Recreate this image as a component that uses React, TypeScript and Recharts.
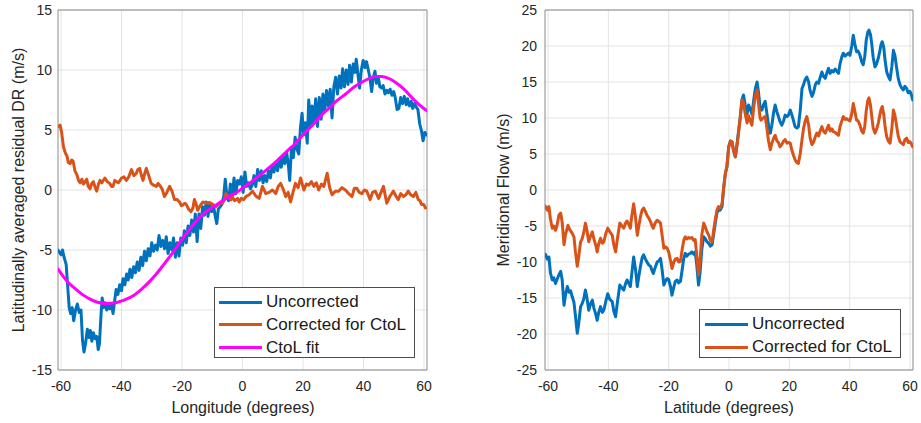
import React from 'react';
import { LineChart, Line, XAxis, YAxis, CartesianGrid, Label, ReferenceArea } from 'recharts';

const BLUE = '#0072BD';
const ORANGE = '#D95319';
const MAGENTA = '#FF00FF';
const TEXT = '#262626';
const FONT = '"Liberation Sans", Arial, Helvetica, sans-serif';

const xTicks = [-60, -40, -20, 0, 20, 40, 60];
const drTicks = [-15, -10, -5, 0, 5, 10, 15];
const flowTicks = [-25, -20, -15, -10, -5, 0, 5, 10, 15, 20, 25];

// Left panel: Longitude vs latitudinally averaged residual DR
const lonUncorrected = [-61, -60, -59.5, -59, -58.3, -57.8, -57.3, -56.8, -56.3, -55.8, -55.2, -54.6, -54, -53.4, -52.9, -52.4, -51.9, -51.3, -50.8, -50.3, -49.8, -49.3, -48.7, -48.2, -47.7, -47.3, -46.8, -46.4, -45.9, -45.4, -44.9, -44.4, -43.9, -43.3, -42.8, -42.3, -41.8, -41.2, -40.6, -40, -39.5, -38.9, -38.3, -37.8, -37.2, -36.6, -36, -35.4, -34.8, -34.2, -33.6, -33, -32.4, -31.8, -31.2, -30.6, -30, -29.4, -28.8, -28.2, -27.6, -27, -26.4, -25.8, -25.2, -24.6, -24, -23.4, -22.8, -22.2, -21.6, -21, -20.4, -19.8, -19.2, -18.6, -18, -17.4, -16.8, -16.2, -15.6, -15, -14.4, -13.8, -13.2, -12.6, -12, -11.4, -10.8, -10.2, -9.6, -9, -8.5, -8, -7.4, -6.8, -6.2, -5.7, -5.2, -4.6, -4, -3.4, -2.8, -2.2, -1.6, -1, -0.4, 0.2, 0.8, 1.4, 2, 2.6, 3.2, 3.8, 4.4, 5, 5.6, 6.2, 6.8, 7.4, 8, 8.6, 9.2, 9.8, 10.4, 11, 11.6, 12.2, 12.8, 13.4, 14, 14.6, 15.2, 15.6, 16.2, 16.8, 17.4, 18, 18.6, 19.2, 19.7, 20.2, 20.8, 21.4, 21.9, 22.5, 23, 23.6, 24.2, 24.8, 25.4, 26, 26.6, 27.2, 27.8, 28.4, 29, 29.6, 30.2, 30.8, 31.4, 32, 32.6, 33.1, 33.7, 34.3, 34.9, 35.4, 36, 36.6, 37.2, 37.6, 38.2, 38.7, 39.3, 39.9, 40.5, 41, 41.6, 42.1, 42.7, 43.2, 43.8, 44.3, 44.9, 45.4, 46, 46.5, 47.1, 47.7, 48.2, 48.8, 49.4, 50, 50.5, 51.1, 51.7, 52.3, 52.9, 53.5, 54.1, 54.6, 55.2, 55.8, 56.3, 56.9, 57.5, 58, 58.6, 59.2, 59.7, 60.3, 60.8];
const drUncorrected = [-5.0, -5.4, -5.0, -5.6, -6.2, -8.0, -9.8, -10.3, -9.8, -10.9, -10.0, -9.5, -10.2, -10.0, -12.5, -13.5, -12.8, -11.6, -12.3, -11.7, -12.6, -11.9, -12.4, -12.2, -13.3, -12.8, -10.5, -9.0, -9.8, -9.4, -10.0, -9.6, -9.9, -9.5, -10.3, -9.3, -8.3, -8.7, -7.9, -8.4, -7.4, -7.9, -7.0, -7.5, -6.6, -7.3, -6.4, -6.9, -6.0, -6.7, -5.6, -6.3, -5.1, -5.9, -4.9, -5.5, -4.4, -5.1, -4.6, -5.0, -3.8, -4.7, -4.2, -4.9, -3.9, -5.3, -4.4, -5.0, -4.0, -5.6, -4.4, -5.5, -4.0, -4.6, -3.4, -4.4, -3.0, -3.8, -2.5, -3.5, -2.0, -4.3, -2.0, -3.2, -1.4, -2.1, -1.0, -2.2, -1.1, -1.8, -1.3, -2.2, -2.8, -1.6, -1.4, -1.2, -0.5, 0.9, -0.4, -0.9, 0.5, -0.6, 1.0, -0.3, 0.8, 0.5, 1.1, -0.2, 1.5, 0.3, 0.6, 0.1, 0.4, 1.2, 0.3, 1.7, 0.8, 1.6, 0.6, 1.2, 0.7, 1.6, 1.0, 2.0, 1.5, 2.2, 1.6, 2.6, 1.9, 2.8, 2.2, 3.1, 2.0, 0.8, 3.5, 2.7, 4.4, 3.4, 3.0, 5.3, 6.4, 4.6, 5.6, 3.9, 7.5, 5.3, 7.0, 5.6, 7.6, 5.3, 7.7, 5.9, 8.0, 6.6, 8.3, 7.0, 8.4, 6.0, 8.6, 9.4, 8.0, 9.5, 8.5, 10.1, 8.6, 10.0, 8.8, 10.4, 9.0, 10.5, 9.8, 10.9, 9.6, 8.5, 10.0, 10.8, 10.2, 10.7, 10.0, 9.4, 8.2, 9.3, 9.9, 8.9, 9.4, 8.6, 8.5, 8.7, 8.0, 8.3, 8.1, 8.4, 7.9, 8.2, 7.7, 6.7, 6.8, 7.7, 7.2, 7.8, 7.1, 7.6, 7.0, 7.4, 6.8, 7.2, 6.9, 6.7, 5.5, 4.9, 4.1, 4.8, 4.6];

const lonCorrected = [-60.8, -60.3, -59.8, -59.2, -58.6, -58, -57.6, -57, -56.5, -56, -55.4, -54.8, -54.2, -53.7, -53.1, -52.6, -52, -51.5, -51, -50.4, -49.9, -49.3, -48.7, -48.2, -47.6, -47.1, -46.5, -45.5, -44.7, -43.9, -43.3, -42.8, -42.2, -41.7, -41, -40, -39.2, -38.4, -37.6, -36.7, -35.9, -35.1, -34.6, -34, -33.4, -32.9, -32.3, -31.8, -31, -30.2, -29.4, -28.5, -27.9, -27.4, -26.6, -25.8, -25, -24.1, -23.3, -22.5, -21.6, -20.8, -20.2, -19.7, -19.1, -18.6, -17.8, -17, -16.4, -15.9, -15.3, -14.8, -14, -13.1, -12, -10.9, -9.8, -8.8, -7.7, -6.6, -6, -5.5, -4.6, -3.8, -3.3, -2.6, -1.6, -1.1, -0.4, 0.4, 1.1, 2.2, 3.3, 4.4, 5.5, 6.6, 7.7, 8.8, 9.9, 11, 11.8, 12.6, 13.4, 14.3, 15.1, 15.9, 16.7, 17.5, 18.4, 19.2, 20.3, 21.1, 21.9, 22.8, 23.6, 24.4, 25.2, 26.1, 26.9, 28, 28.8, 29.6, 30.7, 31.8, 32.9, 34, 35.1, 36.2, 37, 37.8, 38.6, 39.5, 40.3, 41.1, 42.2, 43, 43.9, 45, 45.8, 46.6, 47.7, 48.8, 49.9, 50.7, 51.5, 52.3, 53.2, 54, 54.8, 55.6, 56.5, 57.3, 58.1, 58.7, 59.2, 59.9, 60.5];
const drCorrected = [5.3, 5.4, 4.8, 3.6, 3.1, 2.8, 2.3, 2.2, 2.5, 2.4, 1.6, 1.3, 0.8, 0.6, 0.9, 0.5, 0.7, 0.9, 0.3, 0.1, 0.5, 0.7, 0.2, -0.1, 0.5, 0.8, 0.6, 1.0, 0.7, 0.55, 0.3, 0.3, 0.8, 0.7, 0.6, 1.0, 1.1, 0.8, 1.1, 1.7, 1.2, 1.4, 1.7, 1.8, 1.2, 0.8, 1.4, 1.8, 1.2, 0.55, 0.4, 0.3, 0.55, 0.4, 0.1, -0.55, -0.2, 0.3, -0.1, -0.8, -0.8, -1.0, -1.3, -1.25, -1.1, -1.2, -1.6, -1.8, -1.5, -0.8, -1.2, -1.7, -1.3, -1.0, -1.1, -1.05, -1.2, -1.4, -1.1, -1.1, -0.8, -0.3, -0.6, -0.8, -0.6, -0.9, -0.7, -1.0, -0.7, -0.8, -0.55, -0.4, -0.1, -0.5, -0.7, 0.3, -0.3, -0.2, 0, -0.3, 0.3, 0.55, 0.1, -0.55, -0.2, -1.0, -0.2, 0.55, 0.2, 1.0, 0, 0.5, 0.4, 0.7, 0.3, 0.6, 0, 0.5, 0.3, 1.4, 0.2, -0.4, -0.1, -0.1, 0.2, 0, -0.3, -0.55, 0.15, 0.15, -0.2, -0.3, 0, -0.1, -0.8, -0.2, -0.1, -0.7, -0.2, 0.3, -1.1, -0.5, -0.1, -0.5, -0.8, -0.3, -0.55, -0.4, -0.1, -0.4, -0.55, -0.2, -0.8, -0.9, -1.2, -1.2, -1.5];

const lonFit = [-61, -58, -55.9, -53, -50.4, -48, -45, -42, -39.4, -36, -34, -31, -28.5, -26, -23, -20, -17.5, -15, -12, -9, -6.6, -4.4, -2, 0, 2, 4, 6.6, 9, 12.1, 15, 17.6, 20, 23.1, 26, 28.5, 31, 34.1, 37, 39.6, 42, 43.9, 46, 48.3, 51, 53.8, 56, 58, 61];
const drFit = [-6.6, -7.6, -8.1, -8.7, -9.1, -9.35, -9.45, -9.4, -9.2, -8.8, -8.4, -7.7, -7.0, -6.2, -5.2, -4.1, -3.3, -2.5, -1.8, -1.3, -0.9, -0.55, -0.2, 0.15, 0.5, 0.9, 1.4, 1.9, 2.6, 3.3, 3.9, 4.6, 5.4, 6.2, 6.8, 7.4, 8.0, 8.6, 9.0, 9.3, 9.45, 9.45, 9.3, 8.9, 8.3, 7.7, 7.2, 6.6];

// Right panel: Latitude vs meridional flow, as [latitude, flow] pairs
const flowUncorrected: [number, number][] = [[-61,-8.9],[-60.8,-9.0],[-60.2,-9.6],[-59.7,-9.3],[-59.2,-11.5],[-58.6,-12.5],[-58.1,-12.2],[-57.5,-13.0],[-57,-12.4],[-56.4,-11.8],[-55.8,-11.3],[-55.3,-12.5],[-54.7,-16.0],[-54.2,-14.6],[-53.6,-13.4],[-53,-14.2],[-52.5,-14.0],[-52,-14.8],[-51.4,-15.6],[-50.9,-17.5],[-50.3,-19.9],[-49.8,-18.5],[-49.2,-16.2],[-48.7,-15.8],[-48.2,-15.2],[-47.6,-13.9],[-47.1,-15.0],[-46.5,-16.7],[-45.9,-15.8],[-45.3,-15.3],[-44.8,-16.4],[-44.2,-17.2],[-43.7,-18.1],[-43.2,-17.0],[-42.6,-16.2],[-42,-17.0],[-41.5,-16.7],[-40.8,-15.4],[-40.2,-14.4],[-39.5,-15.2],[-38.7,-15.5],[-38.2,-16.8],[-37.6,-17.6],[-37,-15.6],[-36.2,-13.2],[-35.5,-13.6],[-34.9,-13.9],[-34.3,-13.0],[-33.8,-12.5],[-33.2,-13.0],[-32.7,-13.4],[-32.2,-11.5],[-31.6,-9.3],[-31,-11.0],[-30.4,-13.4],[-29.9,-12.0],[-29.3,-10.5],[-28.8,-9.4],[-28.3,-9.0],[-27.7,-9.6],[-27.2,-10.0],[-26.6,-10.4],[-26,-10.6],[-25.5,-11.2],[-25.1,-11.6],[-24.5,-10.8],[-23.8,-10.0],[-23.2,-9.8],[-22.7,-9.5],[-22.2,-11.0],[-21.6,-13.2],[-21,-12.6],[-20.5,-12.3],[-20,-12.4],[-19.4,-13.4],[-18.9,-14.6],[-18.3,-13.5],[-17.8,-12.7],[-17.2,-12.5],[-16.7,-12.9],[-16.1,-12.7],[-15.5,-11.0],[-15,-9.5],[-14.5,-8.8],[-14,-9.2],[-13.4,-8.9],[-12.8,-8.8],[-12.3,-8.6],[-11.7,-8.9],[-11.2,-8.6],[-10.7,-10.4],[-10.1,-13.2],[-9.6,-11.5],[-9,-8.2],[-8.4,-6.5],[-7.8,-6.8],[-7.3,-7.2],[-6.7,-7.4],[-6.2,-7.8],[-5.6,-7.6],[-5.1,-6.2],[-4.5,-4.5],[-4,-3.2],[-3.5,-2.8],[-2.9,-2.8],[-2.3,-2.3],[-1.8,0.2],[-1.2,2.3],[-0.7,3.2],[-0.1,6.0],[0.5,6.8],[1,6.7],[1.5,5.5],[2.1,4.6],[2.6,6.2],[3.2,8.3],[3.7,10.0],[4.3,12.5],[4.8,13.2],[5.4,11.8],[6,10.6],[6.5,11.8],[7,11.3],[7.6,10.5],[8.2,12.5],[8.7,14.0],[9.3,15.0],[9.8,13.5],[10.3,11.5],[10.9,11.1],[11.4,11.8],[12,12.3],[12.6,10.5],[13.1,9.0],[13.7,7.9],[14.2,9.0],[14.8,10.8],[15.3,11.8],[15.9,10.8],[16.4,10.2],[16.9,9.5],[17.5,9.0],[18.1,9.6],[18.6,10.4],[19.2,10.2],[19.7,10.4],[20.3,11.1],[20.8,10.5],[21.4,9.6],[21.9,8.8],[22.5,8.6],[23,8.8],[23.6,11.0],[24.2,14.1],[24.7,14.6],[25.2,15.3],[25.8,15.7],[26.4,15.0],[26.9,13.8],[27.5,13.0],[28,13.5],[28.6,14.6],[29.1,15.0],[29.7,14.8],[30.2,15.6],[30.8,16.4],[31.3,15.8],[31.9,15.5],[32.4,16.2],[33,16.9],[33.5,16.2],[34.1,16.6],[34.6,16.4],[35.2,16.8],[35.7,16.5],[36.3,16.2],[36.8,17.5],[37.4,18.5],[37.9,19.0],[38.5,18.6],[39,18.8],[39.6,19.0],[40.1,18.7],[40.7,20.0],[41.2,21.5],[41.7,20.3],[42.3,19.2],[42.8,19.3],[43.4,18.75],[44,17.8],[44.5,17.4],[45,18.5],[45.5,20.8],[46,21.9],[46.4,22.2],[46.9,21.6],[47.3,20.4],[47.8,18.4],[48.4,17.1],[48.9,17.5],[49.5,18.3],[50,19.3],[50.4,20.2],[50.8,20.6],[51.3,19.8],[51.8,17.8],[52.3,16.4],[52.8,15.8],[53.4,15.3],[54,17.2],[54.5,19.4],[55,18.7],[55.6,16.9],[56.1,15.5],[56.7,14.6],[57.2,14.2],[57.8,13.9],[58.3,14.4],[58.9,14.1],[59.4,13.5],[60,13.7],[60.5,13.2],[60.9,12.5]];

const flowCorrected: [number, number][] = [[-61,-2.2],[-60.8,-2.3],[-60.2,-2.8],[-59.7,-2.3],[-59.2,-4.0],[-58.6,-5.3],[-58.1,-5.0],[-57.5,-5.6],[-57,-4.9],[-56.4,-3.5],[-55.8,-3.2],[-55.3,-4.5],[-54.7,-7.6],[-54.2,-6.2],[-53.4,-4.9],[-52.8,-5.5],[-52,-6.0],[-51.4,-6.5],[-50.9,-8.6],[-50.3,-10.6],[-49.8,-9.2],[-49.2,-7.2],[-48.7,-6.8],[-48.2,-6.0],[-47.6,-4.6],[-47.1,-5.6],[-46.5,-7.2],[-45.9,-6.4],[-45.3,-5.8],[-44.8,-6.8],[-44.2,-7.6],[-43.7,-8.6],[-43.2,-7.5],[-42.6,-6.7],[-42,-7.4],[-41.5,-7.2],[-40.8,-6.0],[-40.2,-5.3],[-39.5,-5.8],[-38.7,-6.3],[-38.2,-7.6],[-37.6,-8.6],[-37,-6.8],[-36.2,-4.6],[-35.5,-5.0],[-34.9,-5.3],[-34.3,-4.6],[-33.8,-4.3],[-33.2,-4.8],[-32.7,-5.3],[-32.2,-3.5],[-31.6,-1.9],[-31,-3.8],[-30.4,-6.3],[-29.9,-5.0],[-29.3,-3.6],[-28.8,-2.8],[-28.3,-2.5],[-27.7,-3.0],[-27.2,-3.5],[-26.6,-3.9],[-26,-4.4],[-25.5,-5.0],[-25.1,-5.3],[-24.5,-4.6],[-23.8,-4.2],[-23.2,-4.4],[-22.7,-4.6],[-22.2,-6.2],[-21.6,-8.1],[-21,-7.9],[-20.5,-8.1],[-20,-8.6],[-19.4,-9.8],[-18.9,-10.9],[-18.3,-10.0],[-17.8,-9.6],[-17.2,-9.5],[-16.7,-10.0],[-16.1,-9.9],[-15.5,-8.2],[-15,-7.0],[-14.5,-6.5],[-14,-6.8],[-13.4,-6.6],[-12.8,-6.7],[-12.3,-6.6],[-11.7,-7.0],[-11.2,-6.9],[-10.7,-9.0],[-10.1,-11.8],[-9.6,-9.8],[-9,-6.2],[-8.4,-4.6],[-7.8,-5.2],[-7.3,-5.8],[-6.7,-6.3],[-6.2,-7.0],[-5.6,-7.2],[-5.1,-5.6],[-4.5,-4.0],[-4,-2.8],[-3.5,-2.3],[-2.9,-2.5],[-2.3,-1.9],[-1.8,0.2],[-1.2,2.3],[-0.7,3.2],[-0.1,6.0],[0.5,6.8],[1,6.7],[1.5,5.5],[2.1,4.6],[2.6,6.0],[3.2,8.0],[3.7,10.0],[4.3,12.5],[4.8,12.2],[5.4,10.5],[6,9.3],[6.5,10.3],[7,9.7],[7.6,9.0],[8.2,11.5],[8.7,13.0],[9.3,13.9],[9.8,12.0],[10.3,10.0],[10.6,9.7],[11.3,10.0],[12,10.2],[12.6,8.5],[13.1,6.8],[13.7,5.6],[14.2,6.5],[14.8,7.2],[15.3,7.6],[15.9,6.8],[16.4,6.6],[16.9,6.0],[17.5,6.3],[18.1,6.8],[18.6,7.0],[19.2,6.5],[19.7,6.6],[20.3,6.5],[20.8,5.6],[21.4,4.8],[21.9,4.2],[22.5,3.8],[23,3.7],[23.6,5.0],[24.2,7.0],[24.7,8.5],[25.2,9.5],[25.8,10.2],[26.4,9.0],[26.9,7.2],[27.5,6.3],[28,6.6],[28.6,7.4],[29.1,7.9],[29.7,7.5],[30.2,8.2],[30.8,8.8],[31.3,8.2],[31.9,7.9],[32.4,8.4],[33,9.0],[33.5,8.2],[34.1,8.5],[34.6,8.1],[35.2,8.0],[35.7,7.8],[36.3,7.6],[36.8,8.8],[37.4,9.6],[37.9,10.2],[38.5,9.8],[39,9.9],[39.6,9.7],[40.1,9.6],[40.7,10.6],[41.2,12.0],[41.7,11.0],[42.3,9.7],[42.8,9.6],[43.4,9.0],[44,8.2],[44.5,7.9],[45,8.8],[45.5,11.0],[46,12.4],[46.4,12.8],[46.9,11.8],[47.3,10.3],[47.8,8.6],[48.4,7.9],[48.9,8.4],[49.5,9.3],[50,10.4],[50.4,11.2],[50.8,11.6],[51.3,10.5],[51.8,8.6],[52.3,7.4],[52.8,6.8],[53.4,6.5],[54,8.6],[54.5,11.1],[55,10.4],[55.6,8.8],[56.1,7.5],[56.7,6.7],[57.2,6.5],[57.8,6.3],[58.3,7.0],[58.9,7.2],[59.4,6.6],[60,6.7],[60.5,6.4],[60.9,6.0]];

const zip = (xs: number[], ys: number[]) => xs.slice(0, Math.min(xs.length, ys.length)).map((x, i) => ({ x, y: ys[i] }));
const fromPairs = (pairs: [number, number][]) => pairs.map(([x, y]) => ({ x, y }));

const tickStyle = { fontSize: 14, fill: TEXT, fontFamily: FONT };

function AxisText({ x, y, rotate, children }: { x: number; y: number; rotate?: boolean; children: React.ReactNode }) {
  return (
    <text
      x={x}
      y={y}
      textAnchor="middle"
      dominantBaseline="central"
      transform={rotate ? `rotate(-90 ${x} ${y})` : undefined}
      style={{ fontSize: 16, fill: TEXT, fontFamily: FONT }}
    >
      {children}
    </text>
  );
}

type LegendItem = { label: string; color: string };

function LegendBox({ left, top, width, height, items, rowTops, sampleLeft, sampleWidth, textLeft }: {
  left: number; top: number; width: number; height: number; items: LegendItem[]; rowTops: number[];
  sampleLeft: number; sampleWidth: number; textLeft: number;
}) {
  return (
    <div style={{ position: 'absolute', left, top, width, height, border: '1px solid #4d4d4d', background: '#fff', boxSizing: 'border-box' }}>
      {items.map((it, i) => (
        <React.Fragment key={it.label}>
          <div style={{ position: 'absolute', left: sampleLeft, top: rowTops[i] - 1.5, width: sampleWidth, height: 3, background: it.color }} />
          <div style={{ position: 'absolute', left: textLeft, top: rowTops[i] - 11, height: 22, lineHeight: '22px', fontSize: 17, fontFamily: FONT, color: '#1a1a1a', whiteSpace: 'nowrap' }}>{it.label}</div>
        </React.Fragment>
      ))}
    </div>
  );
}

const lineProps = { strokeWidth: 3, dot: false as const, isAnimationActive: false, strokeLinejoin: 'round' as const, strokeLinecap: 'round' as const };

export default function App() {
  const leftBlue = zip(lonUncorrected, drUncorrected);
  const leftOrange = zip(lonCorrected, drCorrected);
  const leftFit = zip(lonFit, drFit);
  const rightBlue = fromPairs(flowUncorrected);
  const rightOrange = fromPairs(flowCorrected);

  return (
    <div style={{ position: 'absolute', left: 0, top: 0, width: 921, height: 423, background: '#fff' }}>
      <div style={{ position: 'absolute', left: 0, top: 0 }}>
        <LineChart width={460} height={423} margin={{ top: 10, right: 33, bottom: 0, left: 0 }}>
          <CartesianGrid stroke="#e3e3e3" strokeWidth={1} horizontalValues={drTicks} verticalValues={xTicks} />
          <XAxis dataKey="x" type="number" domain={[-61, 61]} ticks={xTicks} allowDataOverflow height={53}
            tick={tickStyle} tickLine={false} tickSize={0} tickMargin={11} axisLine={false}>
            <Label content={() => <AxisText x={243} y={407}>Longitude (degrees)</AxisText>} />
          </XAxis>
          <YAxis type="number" domain={[-15, 15]} ticks={drTicks} allowDataOverflow width={58}
            tick={tickStyle} tickLine={false} tickSize={0} tickMargin={6} axisLine={false}>
            <Label content={() => <AxisText x={18} y={190} rotate>Latitudinally averaged residual DR (m/s)</AxisText>} />
          </YAxis>
          <ReferenceArea x1={-61} x2={61} y1={-15} y2={15} fill="none" stroke="#8a8a8a" strokeWidth={1} />
          <Line data={leftBlue} dataKey="y" stroke={BLUE} {...lineProps} />
          <Line data={leftOrange} dataKey="y" stroke={ORANGE} {...lineProps} />
          <Line data={leftFit} dataKey="y" type="monotone" stroke={MAGENTA} {...lineProps} />
        </LineChart>
      </div>
      <div style={{ position: 'absolute', left: 460, top: 0 }}>
        <LineChart width={461} height={423} margin={{ top: 10, right: 8, bottom: 0, left: 0 }}>
          <CartesianGrid stroke="#e3e3e3" strokeWidth={1} horizontalValues={flowTicks} verticalValues={xTicks} />
          <XAxis dataKey="x" type="number" domain={[-61, 61]} ticks={xTicks} allowDataOverflow height={53}
            tick={tickStyle} tickLine={false} tickSize={0} tickMargin={11} axisLine={false}>
            <Label content={() => <AxisText x={269} y={407}>Latitude (degrees)</AxisText>} />
          </XAxis>
          <YAxis type="number" domain={[-25, 25]} ticks={flowTicks} allowDataOverflow width={85}
            tick={tickStyle} tickLine={false} tickSize={0} tickMargin={8} axisLine={false}>
            <Label content={() => <AxisText x={43} y={190} rotate>Meridional Flow (m/s)</AxisText>} />
          </YAxis>
          <ReferenceArea x1={-61} x2={61} y1={-25} y2={25} fill="none" stroke="#8a8a8a" strokeWidth={1} />
          <Line data={rightBlue} dataKey="y" stroke={BLUE} {...lineProps} />
          <Line data={rightOrange} dataKey="y" stroke={ORANGE} {...lineProps} />
        </LineChart>
      </div>
      <LegendBox left={214} top={287} width={201} height={71}
        items={[{ label: 'Uncorrected', color: BLUE }, { label: 'Corrected for CtoL', color: ORANGE }, { label: 'CtoL fit', color: MAGENTA }]}
        rowTops={[14, 36.5, 59.5]} sampleLeft={4} sampleWidth={43} textLeft={51} />
      <LegendBox left={699} top={309} width={202} height={49}
        items={[{ label: 'Uncorrected', color: BLUE }, { label: 'Corrected for CtoL', color: ORANGE }]}
        rowTops={[14, 37]} sampleLeft={5} sampleWidth={43} textLeft={52} />
    </div>
  );
}
